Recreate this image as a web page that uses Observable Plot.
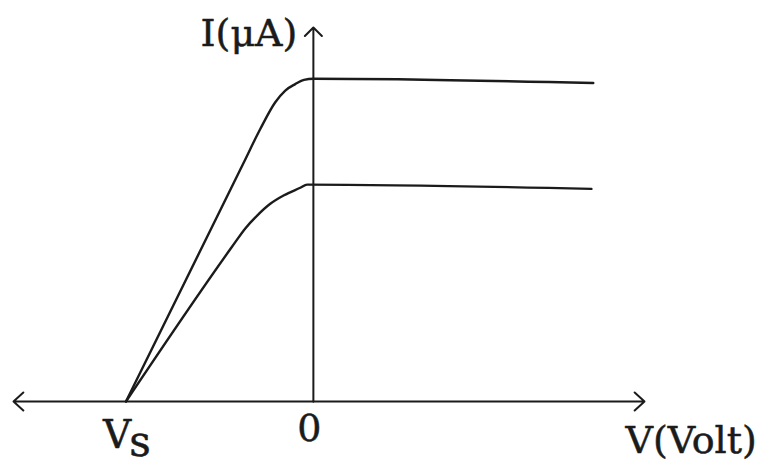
<!DOCTYPE html>
<html>
<head>
<meta charset="utf-8">
<script src="https://cdn.jsdelivr.net/npm/d3@7"></script>
<script src="https://cdn.jsdelivr.net/npm/@observablehq/plot@0.6"></script>
<style>
  html, body { margin: 0; padding: 0; background: #fff; }
  svg { display: block; }
</style>
</head>
<body>
<div id="chart"></div>
<script>
// Photoelectric current vs. applied voltage for two light intensities
// (same stopping potential Vs, different saturation currents).

// Upper curve: higher intensity
const vUpper = [-3, -1.12, -0.85, -0.61, -0.45, -0.29, -0.15, 0, 4.48];
const iUpper = [0, 2.23, 2.55, 2.80, 2.91, 2.97, 3.01, 3.02, 2.98];

// Lower curve: lower intensity
const vLower = [-3, -1.3, -1.09, -0.9, -0.69, -0.47, -0.21, -0.1, 4.45];
const iLower = [0, 1.45, 1.62, 1.74, 1.85, 1.93, 2.0, 2.03, 1.99];

// Axis extents (V axis runs both ways, I axis upward)
const vAxisEnds = [-4.8, 5.3];
const iAxisTop = [3.5];

// Tick labels on the V axis
const tickValues = [-3, 0];
const tickLabels = ["Vs", "0"];

// Axis titles
const xTitle = "V(Volt)";
const yTitle = "I(μA)";

const upper = vUpper.map((v, k) => ({V: v, I: iUpper[k]}));
const lower = vLower.map((v, k) => ({V: v, I: iLower[k]}));
const ticks = tickValues.map((v, k) => ({V: v, label: tickLabels[k]}));

const ink = "#1b1b1b";
const serif = "DejaVu Serif";
const textInk = {fill: ink, stroke: ink, strokeWidth: 0.5};

const chart = Plot.plot({
  width: 762,
  height: 465,
  marginLeft: 13,
  marginRight: 118,
  marginTop: 27,
  marginBottom: 64,
  x: {domain: [-4.8, 5.3], axis: null},
  y: {domain: [0, 3.5], axis: null},
  style: {background: "#fff", fontFamily: serif, color: ink},
  marks: [
    // horizontal axis, arrowheads at both ends
    Plot.arrow(vAxisEnds, {
      x1: () => 0, y1: () => 0, x2: d => d, y2: () => 0,
      stroke: ink, strokeWidth: 2, headLength: 10, headAngle: 85
    }),
    // vertical axis
    Plot.arrow(iAxisTop, {
      x1: () => 0, y1: () => 0, x2: () => 0, y2: d => d,
      stroke: ink, strokeWidth: 2, headLength: 9, headAngle: 90
    }),
    Plot.line(upper, {x: "V", y: "I", curve: "monotone-x", stroke: ink, strokeWidth: 2.4}),
    Plot.line(lower, {x: "V", y: "I", curve: "monotone-x", stroke: ink, strokeWidth: 2.4}),
    // axis titles
    Plot.text([yTitle], {
      x: () => 0, y: () => 3.5, text: d => d,
      textAnchor: "end", lineAnchor: "bottom", dx: -16, dy: 18,
      fontSize: 38, ...textInk
    }),
    Plot.text([xTitle], {
      x: () => 5.3, y: () => 0, text: d => d,
      textAnchor: "start", lineAnchor: "bottom", dx: -19, dy: 51,
      fontSize: 38, ...textInk
    }),
    // tick labels
    Plot.text(ticks.filter(d => d.label === "Vs"), {
      x: "V", y: () => 0, text: "label",
      textAnchor: "start", lineAnchor: "bottom", dx: -23, dy: 46,
      fontSize: 39, ...textInk, className: "vs-label"
    }),
    Plot.text(ticks.filter(d => d.label !== "Vs"), {
      x: "V", y: () => 0, text: "label",
      textAnchor: "middle", lineAnchor: "bottom", dx: -4, dy: 39,
      fontSize: 38, ...textInk
    })
  ]
});

// Set the "s" of Vs as a lowered subscript
d3.select(chart).selectAll(".vs-label text").each(function () {
  const t = d3.select(this);
  const s = t.text();
  t.text(s.slice(0, 1));
  t.append("tspan").attr("dx", -2).attr("dy", 8).attr("font-size", 42).text(s.slice(1));
});

document.getElementById("chart").append(chart);
</script>
</body>
</html>
